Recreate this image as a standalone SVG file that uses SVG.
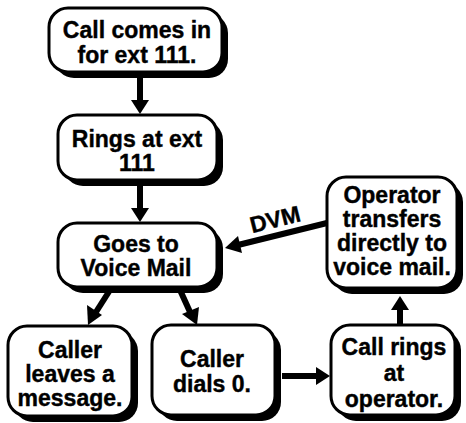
<svg xmlns="http://www.w3.org/2000/svg" width="466" height="423" viewBox="0 0 466 423">
<style>
.sh{fill:#000}
.bx{fill:#fff;stroke:#000;stroke-width:3}
.t{font-family:"Liberation Sans",Arial,sans-serif;font-weight:bold;font-size:23px;fill:#000;stroke:#000;stroke-width:0.4;text-anchor:middle}
.ln{stroke:#000;stroke-width:6;fill:none}
.hd{fill:#000}
</style>
<rect width="466" height="423" fill="#fff"/>
<g id="connectors">
<line class="ln" x1="140" y1="72" x2="140" y2="102"/>
<polygon class="hd" points="131,100 149,100 140,114"/>
<line class="ln" x1="140" y1="180" x2="140" y2="210"/>
<polygon class="hd" points="131,208 149,208 140,222"/>
<line class="ln" x1="110" y1="290" x2="96" y2="312"/>
<polygon class="hd" points="87,305 102,315 88,325"/>
<line class="ln" x1="180" y1="290" x2="190" y2="312"/>
<polygon class="hd" points="182,314 199,307 197,325"/>
<line class="ln" x1="282" y1="376" x2="318" y2="376"/>
<polygon class="hd" points="316,367 316,385 330,376"/>
<line class="ln" x1="400" y1="325" x2="400" y2="308"/>
<polygon class="hd" points="391,310 409,310 400,296"/>
<line class="ln" x1="327" y1="223" x2="238" y2="245"/>
<polygon class="hd" points="238,236 242,253 225,248"/>
<text class="t" transform="translate(277,227) rotate(-14)">DVM</text>
</g>
<g id="n1">
<rect class="sh" x="55" y="14" width="173" height="64" rx="19"/>
<rect class="bx" x="49" y="8" width="173" height="64" rx="19"/>
<text class="t" x="137" y="38">Call comes in</text>
<text class="t" x="137" y="63">for ext 111.</text>
</g>
<g id="n2">
<rect class="sh" x="64" y="121" width="159" height="65" rx="19"/>
<rect class="bx" x="58" y="115" width="159" height="65" rx="19"/>
<text class="t" x="137" y="147">Rings at ext</text>
<text class="t" x="137" y="171">111</text>
</g>
<g id="n3">
<rect class="sh" x="64" y="229" width="159" height="64" rx="19"/>
<rect class="bx" x="58" y="223" width="159" height="64" rx="19"/>
<text class="t" x="136" y="252">Goes to</text>
<text class="t" x="136" y="276">Voice Mail</text>
</g>
<g id="n4">
<rect class="sh" x="14" y="332" width="124" height="90" rx="19"/>
<rect class="bx" x="8" y="326" width="124" height="90" rx="19"/>
<text class="t" x="70" y="358">Caller</text>
<text class="t" x="70" y="382">leaves a</text>
<text class="t" x="70" y="406">message.</text>
</g>
<g id="n5">
<rect class="sh" x="158" y="331" width="123" height="90" rx="19"/>
<rect class="bx" x="152" y="325" width="123" height="90" rx="19"/>
<text class="t" x="212" y="367">Caller</text>
<text class="t" x="212" y="392">dials 0.</text>
</g>
<g id="n6">
<rect class="sh" x="337" y="331" width="124" height="90" rx="19"/>
<rect class="bx" x="331" y="325" width="124" height="90" rx="19"/>
<text class="t" x="394" y="355">Call rings</text>
<text class="t" x="394" y="381">at</text>
<text class="t" x="394" y="407">operator.</text>
</g>
<g id="n7">
<rect class="sh" x="333" y="183" width="130" height="111" rx="19"/>
<rect class="bx" x="327" y="177" width="130" height="111" rx="19"/>
<text class="t" x="392" y="203">Operator</text>
<text class="t" x="392" y="227">transfers</text>
<text class="t" x="392" y="251">directly to</text>
<text class="t" x="392" y="275">voice mail.</text>
</g>
</svg>
